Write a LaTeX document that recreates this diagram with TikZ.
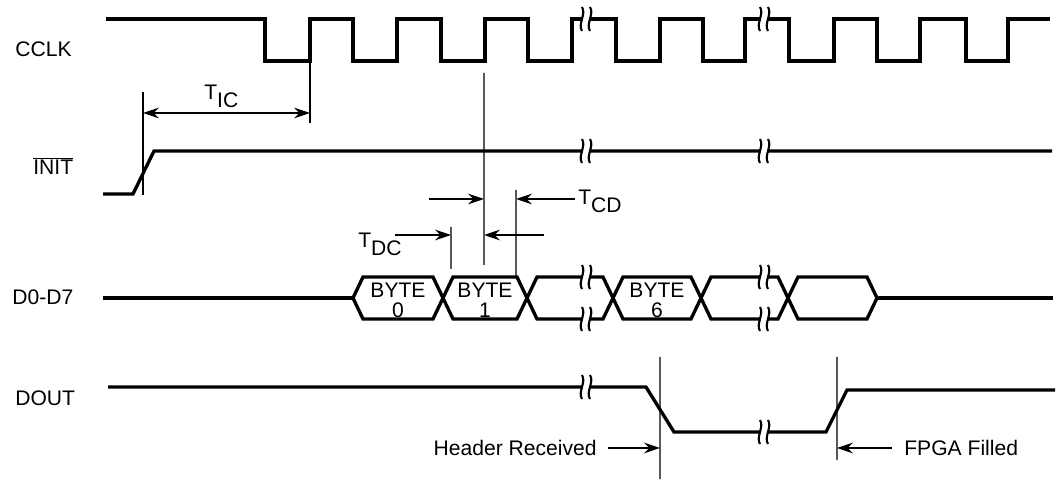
\documentclass[tikz,border=0pt]{standalone}
\usepackage{fontspec}
\setmainfont{Liberation Sans}
\usetikzlibrary{arrows.meta}
\tikzset{
  sig/.style={black, line width=1.9pt},
  guide/.style={black, line width=0.8pt},
  brk/.style={black, line width=1.2pt},
  dimarrow/.style={guide, -{Stealth[length=9pt,width=6pt]}},
  dimboth/.style={guide, {Stealth[length=9pt,width=6pt]}-{Stealth[length=9pt,width=6pt]}},
  every node/.style={font=\fontsize{12}{11.5}\selectfont, inner sep=0pt},
}
\newcommand{\tlabel}[1]{T\raisebox{-4.5pt}{#1}}
\newcommand{\sigbreak}[2]{%
  \fill [white] (#1-0.35,#2+0.6) rectangle (#1+0.35,#2-0.6);
  \draw [brk] (#1-0.4,#2+1.2) .. controls (#1+0.05,#2+0.5) and (#1-0.85,#2-0.5) .. (#1-0.4,#2-1.2);
  \draw [brk] (#1+0.4,#2+1.2) .. controls (#1+0.85,#2+0.5) and (#1-0.05,#2-0.5) .. (#1+0.4,#2-1.2);
}
\begin{document}
\begin{tikzpicture}[scale=0.2]
	\useasboundingbox (0,0) rectangle (105.6,-48);
	% signal names
	\node [anchor=base west] (cclk) at (1.5,-5.7) {CCLK};
	\node [anchor=base west] (init) at (3.3,-17.5) {$\overline{\mbox{INIT}}$};
	\node [anchor=base west] (data) at (1.2,-30.5) {D0-D7};
	\node [anchor=base west] (dout) at (1.5,-40.5) {DOUT};
	% CCLK
	\draw [sig] (10.6,-1.9) foreach \f/\r in {26.5/31.0, 35.3/39.7, 44.1/48.5, 52.8/57.2, 61.6/66.0, 70.3/74.5, 78.9/83.4, 87.7/92.0, 96.6/100.8} { -- (\f,-1.9) -- (\f,-6.1) -- (\r,-6.1) -- (\r,-1.9) } -- (105.0,-1.9);
	\sigbreak{58.6}{-1.9}
	\sigbreak{76.4}{-1.9}
	% INIT
	\draw [sig] (10.3,-19.4) -- (13.3,-19.4) -- (15.4,-15.1) -- (105.2,-15.1);
	\sigbreak{58.6}{-15.1}
	\sigbreak{76.4}{-15.1}
	% T_IC
	\coordinate (icl) at (14.3,-11.3);
	\coordinate (icr) at (31.0,-11.3);
	\draw [guide] (14.3,-9.2) -- (14.3,-19.5);
	\draw [guide] (31.0,-6.1) -- (31.0,-12.3);
	\draw [dimboth] (icl) -- (icr);
	\node [anchor=base west] (tic) at (20.4,-10.0) {\tlabel{IC}};
	% T_CD and T_DC
	\coordinate (clkmark) at (48.4,-7.3);
	\coordinate (cdmark) at (51.6,-19.0);
	\coordinate (dcmark) at (45.1,-22.7);
	\draw [guide] (clkmark) -- (48.4,-26.5);
	\draw [guide] (cdmark) -- (51.6,-27.7);
	\draw [guide] (dcmark) -- (45.1,-26.9);
	\draw [dimarrow] (42.9,-19.9) -- (48.4,-19.9);
	\draw [dimarrow] (57.5,-19.9) -- (51.6,-19.9);
	\draw [dimarrow] (39.5,-23.5) -- (45.1,-23.5);
	\draw [dimarrow] (54.4,-23.5) -- (48.4,-23.5);
	\node [anchor=base west] (tcd) at (57.8,-20.5) {\tlabel{CD}};
	\node [anchor=base west] (tdc) at (35.8,-24.8) {\tlabel{DC}};
	% D0-D7
	\draw [sig] (10.3,-29.8) -- (35.3,-29.8);
	\foreach \a/\b in {35.3/44.3, 44.3/52.7, 52.7/61.3, 61.3/70.1, 70.1/78.8, 78.8/87.7}
		\draw [sig] (\a,-29.8) -- (\a+1,-27.7) -- (\b-1,-27.7) -- (\b,-29.8) -- (\b-1,-31.9) -- (\a+1,-31.9) -- cycle;
	\draw [sig] (87.7,-29.8) -- (105.3,-29.8);
	\sigbreak{58.6}{-27.7}
	\sigbreak{58.6}{-31.9}
	\sigbreak{76.4}{-27.7}
	\sigbreak{76.4}{-31.9}
	\node [align=center] (byte0) at (39.8,-30.0) {BYTE\\0};
	\node [align=center] (byte1) at (48.5,-30.0) {BYTE\\1};
	\node [align=center] (byte6) at (65.7,-30.0) {BYTE\\6};
	% DOUT
	\draw [sig] (10.8,-38.7) -- (64.6,-38.7) -- (67.4,-43.2) -- (82.6,-43.2) -- (84.7,-39.0) -- (105.5,-39.0);
	\sigbreak{58.6}{-38.7}
	\sigbreak{76.4}{-43.2}
	\coordinate (hdrline) at (66.0,-35.7);
	\coordinate (fillline) at (83.7,-35.7);
	\draw [guide] (hdrline) -- (66.0,-47.9);
	\draw [guide] (fillline) -- (83.7,-46.0);
	\node [anchor=base east] (hdr) at (59.7,-45.5) {Header Received};
	\node [anchor=base west] (filled) at (90.4,-45.5) {FPGA Filled};
	\coordinate (hdrtail) at (60.8,-44.8);
	\coordinate (filltail) at (89.2,-44.8);
	\draw [dimarrow] (hdrtail) -- (hdrtail -| hdrline);
	\draw [dimarrow] (filltail) -- (filltail -| fillline);
\end{tikzpicture}
\end{document}
